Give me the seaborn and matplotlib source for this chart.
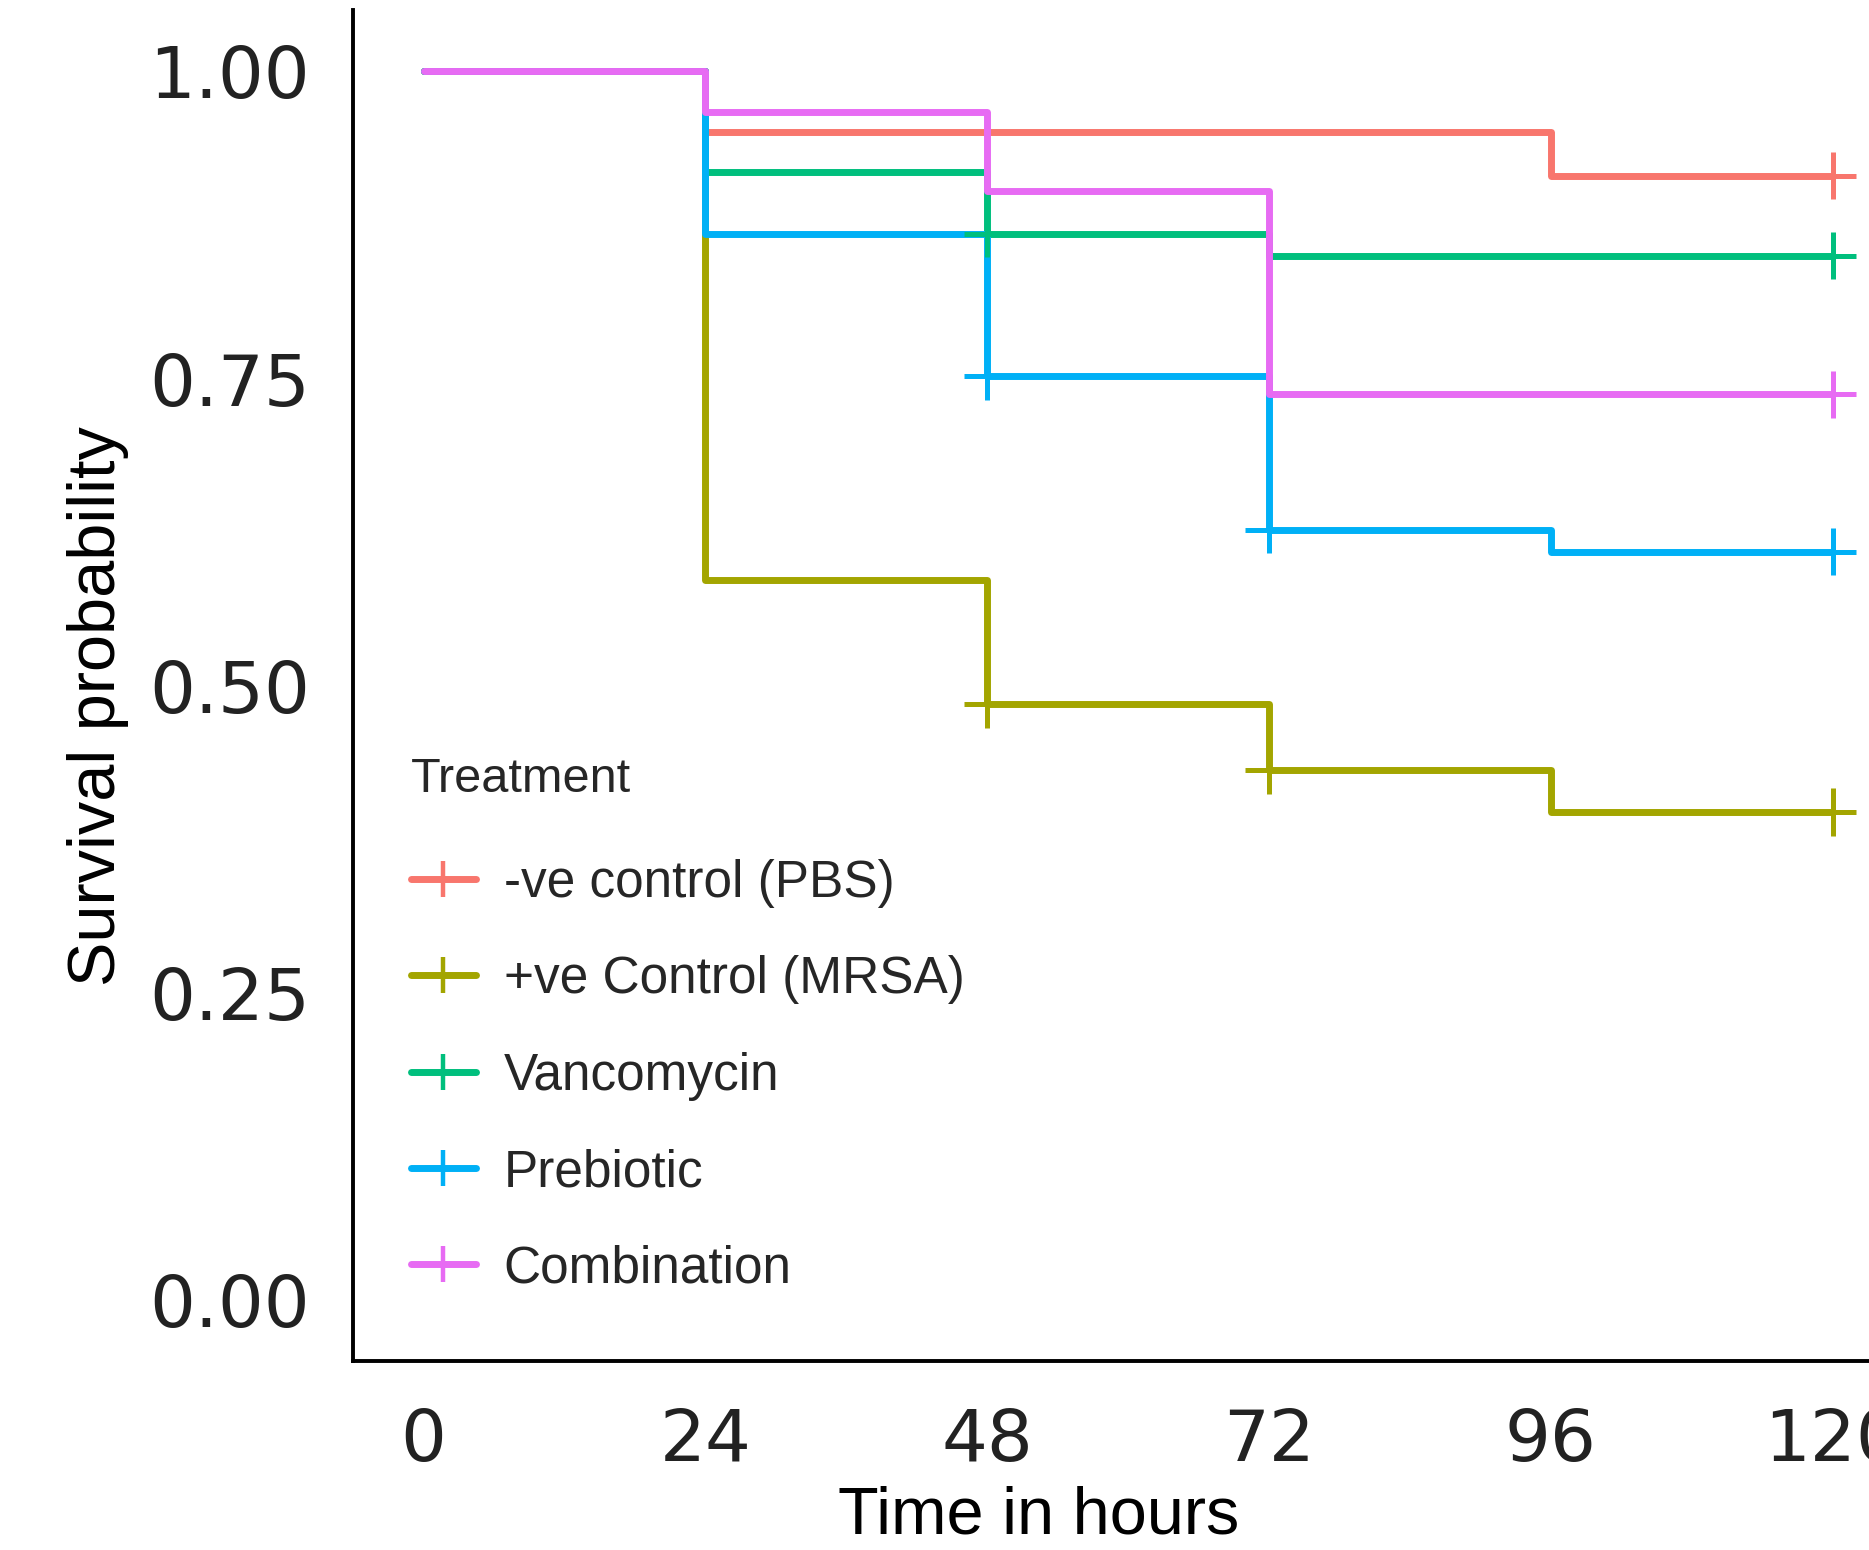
import matplotlib
matplotlib.use('Agg')
import pandas as pd
import matplotlib.pyplot as plt
import seaborn as sns
from matplotlib.lines import Line2D
from matplotlib import font_manager

# 数据：各处理组的生存概率（阶梯），时间单位为小时
times = [0, 24, 48, 72, 96, 120]
groups = ['-ve control (PBS)', '+ve Control (MRSA)', 'Vancomycin', 'Prebiotic', 'Combination']
surv_pbs = [1.0, 0.951, 0.951, 0.951, 0.915, 0.915]
surv_mrsa = [1.0, 0.586, 0.485, 0.431, 0.397, 0.397]
surv_vanco = [1.0, 0.918, 0.868, 0.850, 0.850, 0.850]
surv_prebiotic = [1.0, 0.868, 0.752, 0.627, 0.609, 0.609]
surv_combination = [1.0, 0.967, 0.903, 0.737, 0.737, 0.737]

# 删失标记出现的时间点
censor_pbs = [120]
censor_mrsa = [48, 72, 120]
censor_vanco = [48, 120]
censor_prebiotic = [48, 72, 120]
censor_combination = [120]

colors = ['#F8766D', '#A3A500', '#00BF7D', '#00B0F6', '#E76BF3']
xticks = [0, 24, 48, 72, 96, 120]
yticks = [0.0, 0.25, 0.50, 0.75, 1.00]

surv_all = [surv_pbs, surv_mrsa, surv_vanco, surv_prebiotic, surv_combination]
censor_all = [censor_pbs, censor_mrsa, censor_vanco, censor_prebiotic, censor_combination]

rows, crows = [], []
for g, s, c in zip(groups, surv_all, censor_all):
    for t, v in zip(times, s):
        rows.append({'time': t, 'surv': v, 'Treatment': g})
    for t in c:
        crows.append({'time': t, 'surv': s[times.index(t)], 'Treatment': g})
df = pd.DataFrame(rows)
df_cens = pd.DataFrame(crows)

sns.set_theme(style='white')
plt.rcParams['font.family'] = ['Liberation Sans', 'DejaVu Sans']

installed = {f.name for f in font_manager.fontManager.ttflist}
if 'Liberation Sans Narrow' in installed:
    leg_family, leg_size, title_size = 'Liberation Sans Narrow', 43, 40
else:
    leg_family, leg_size, title_size = 'Liberation Sans', 37, 35

fig = plt.figure(figsize=(18.69, 15.5), dpi=100)
ax = fig.add_axes([0.1889, 0.1219, 0.8293, 0.8716])

sns.lineplot(data=df, x='time', y='surv', hue='Treatment', hue_order=groups,
             palette=colors, drawstyle='steps-post', linewidth=5.0, estimator=None,
             legend=False, ax=ax)
sns.scatterplot(data=df_cens, x='time', y='surv', hue='Treatment', hue_order=groups,
                palette=colors, marker='+', s=34 ** 2, linewidth=3.6,
                legend=False, ax=ax, zorder=3)

ax.set_xlim(-6, 126)
ax.set_ylim(-0.05, 1.05)
ax.set_xticks(xticks)
ax.set_xticklabels([str(t) for t in xticks])
ax.set_yticks(yticks)
ax.set_yticklabels([f'{v:.2f}' for v in yticks])

for side in ['top', 'right']:
    ax.spines[side].set_visible(False)
for side in ['left', 'bottom']:
    ax.spines[side].set_color('black')
    ax.spines[side].set_linewidth(2.8)

ax.tick_params(axis='y', length=17, width=1.8, color='black', pad=14, labelsize=52)
ax.tick_params(axis='x', length=13, width=1.8, color='black', pad=20, labelsize=52)
for lab in ax.get_xticklabels() + ax.get_yticklabels():
    lab.set_fontfamily('DejaVu Sans')
    lab.set_color('#222222')

ax.set_xlabel('Time in hours', fontsize=48, color='black')
ax.set_ylabel('Survival probability', fontsize=48, color='black')
ax.xaxis.set_label_coords(0.442, -0.092)
ax.yaxis.set_label_coords(-0.1445, 0.485)

handles = [Line2D([0], [0], color=c, linewidth=5.0, marker='+', markersize=26, mew=3.2)
           for c in colors]
leg = ax.legend(handles, groups, title='Treatment', loc='upper left',
                bbox_to_anchor=(0.021, 0.466), frameon=False, borderpad=0,
                handlelength=1.25, handletextpad=0.55, labelspacing=0.92,
                alignment='left', prop={'family': leg_family, 'size': leg_size},
                title_fontproperties={'family': leg_family, 'size': title_size})
# 标题与条目之间多留一点空隙
leg._legend_box.sep += 7

ax.grid(False)
fig.savefig('out.png', dpi=100)
